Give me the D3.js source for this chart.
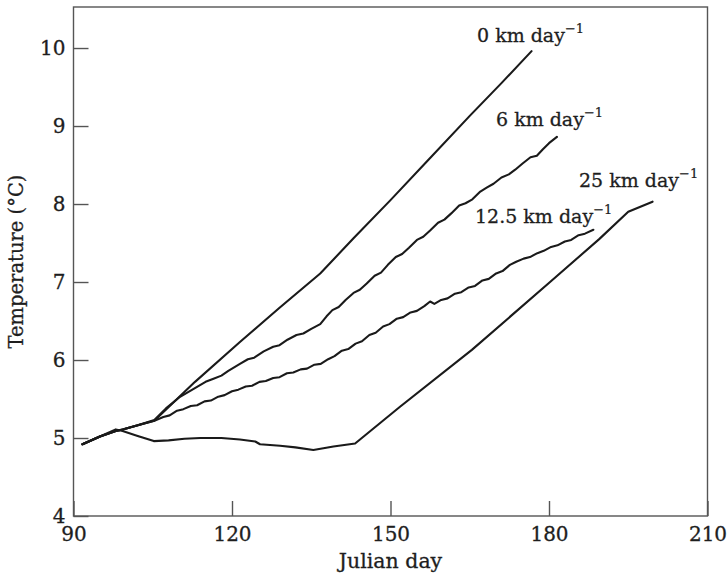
<!DOCTYPE html>
<html>
<head>
<meta charset="utf-8">
<script src="https://cdn.jsdelivr.net/npm/d3@7"></script>
<style>
  html, body { margin: 0; padding: 0; background: #fff; }
  svg { display: block; }
  text { font-family: "DejaVu Serif", "Liberation Serif", serif; fill: #1e1e1e; stroke: #1e1e1e; stroke-width: 0.3px; }
</style>
</head>
<body>
<svg id="chart" width="727" height="577"></svg>
<script>
// Temperature (°C) against Julian day for four drift speeds
const xTicks = [90, 120, 150, 180, 210];
const yTicks = [4, 5, 6, 7, 8, 9, 10];

const speed0 = [
  [91.7, 4.92], [95, 5.02], [98, 5.09], [99.3, 5.11], [102, 5.16], [105.3, 5.22],
  [113, 5.72], [121.5, 6.23], [129, 6.67], [136.7, 7.11], [143, 7.56],
  [150, 8.05], [157.5, 8.59], [165, 9.13], [171, 9.55], [176.7, 9.96]
];

const speed6 = [
  [91.7, 4.92], [95, 5.02], [98, 5.09], [99.3, 5.11], [102, 5.16], [105.3, 5.23],
  [107.5, 5.38], [110.0, 5.52], [112.5, 5.62], [115.0, 5.72], [116.5, 5.76],
  [118.0, 5.80], [119.3, 5.86], [121.5, 5.95], [123.0, 6.01], [124.2, 6.03],
  [126.0, 6.11], [127.8, 6.17], [129.0, 6.19], [130.5, 6.26], [132.2, 6.32],
  [133.5, 6.34], [135.0, 6.40], [136.7, 6.46], [137.9, 6.56], [139.0, 6.64],
  [140.2, 6.68], [141.5, 6.77], [143.0, 6.86], [144.2, 6.90], [145.5, 6.98],
  [147.0, 7.08], [148.2, 7.12], [149.5, 7.22], [151.0, 7.32], [152.2, 7.36],
  [153.5, 7.44], [155.0, 7.54], [156.2, 7.58], [157.5, 7.66], [159.0, 7.76],
  [160.2, 7.80], [161.5, 7.88], [163.0, 7.98], [164.2, 8.01], [165.5, 8.06],
  [167.0, 8.16], [168.2, 8.21], [169.5, 8.26], [171.0, 8.34], [172.4, 8.38],
  [173.6, 8.44], [175.0, 8.52], [176.5, 8.60], [177.7, 8.62], [178.8, 8.70],
  [180.0, 8.78], [181.5, 8.86]
];

const speed12_5 = [
  [91.7, 4.92], [95, 5.02], [98, 5.09], [99.3, 5.11], [102, 5.16], [105.3, 5.22],
  [107.0, 5.27], [108.2, 5.29], [109.6, 5.35], [110.8, 5.37], [112.2, 5.41],
  [113.4, 5.42], [114.8, 5.47], [116.0, 5.48], [117.4, 5.53], [118.6, 5.55],
  [120.0, 5.60], [121.2, 5.62], [122.6, 5.66], [123.8, 5.67], [125.2, 5.72],
  [126.4, 5.73], [127.8, 5.77], [129.0, 5.78], [130.4, 5.83], [131.6, 5.84],
  [133.0, 5.88], [134.2, 5.89], [135.6, 5.94], [136.8, 5.95], [138.2, 6.01],
  [139.4, 6.05], [140.8, 6.12], [142.0, 6.14], [143.4, 6.21], [144.6, 6.24],
  [146.0, 6.32], [147.2, 6.35], [148.6, 6.43], [149.8, 6.46], [151.2, 6.53],
  [152.4, 6.55], [153.8, 6.61], [155.0, 6.63], [156.4, 6.69], [157.5, 6.75],
  [158.3, 6.72], [159.6, 6.77], [160.8, 6.79], [162.2, 6.85], [163.4, 6.87],
  [164.8, 6.93], [166.0, 6.95], [167.4, 7.02], [168.6, 7.04], [170.0, 7.11],
  [171.2, 7.14], [172.6, 7.22], [173.8, 7.26], [175.2, 7.30], [176.4, 7.32],
  [177.8, 7.37], [179.0, 7.40], [180.4, 7.45], [181.6, 7.47], [183.0, 7.52],
  [184.2, 7.54], [185.6, 7.60], [186.8, 7.62], [188.4, 7.67]
];

const speed25 = [
  [91.7, 4.92], [95, 5.02], [98, 5.11], [99.3, 5.09], [102, 5.03], [105.2, 4.96],
  [108, 4.97], [111, 4.99], [114, 5.0], [118, 5.0], [121.5, 4.98], [124.4, 4.955],
  [125.3, 4.92], [129.1, 4.90], [132, 4.88], [135.4, 4.846], [139.2, 4.89],
  [143.3, 4.93], [151.8, 5.40], [165.4, 6.13], [180.2, 7.0], [189.5, 7.55],
  [195, 7.9], [199.6, 8.03]
];

const seriesLabels = ["0", "6", "12.5", "25"];
const seriesData = [speed0, speed6, speed12_5, speed25];

const svg = d3.select("#chart");
const plotLeft = 73.5, plotRight = 707.5, plotTop = 7, plotBottom = 516;

const x = d3.scaleLinear().domain([90, 210]).range([plotLeft, plotRight]);
const y = d3.scaleLinear().domain([4, 10.526]).range([plotBottom, plotTop]);

const axisColor = "#555";

// plot frame
svg.append("rect")
  .attr("x", plotLeft).attr("y", plotTop)
  .attr("width", plotRight - plotLeft).attr("height", plotBottom - plotTop)
  .attr("fill", "none").attr("stroke", axisColor).attr("stroke-width", 1.4);

// axes with inward ticks
const gx = svg.append("g")
  .attr("transform", `translate(0,${plotBottom})`)
  .call(d3.axisBottom(x).tickValues(xTicks).tickFormat(d3.format("d"))
    .tickSizeInner(-15).tickSizeOuter(0).tickPadding(11));
const gy = svg.append("g")
  .attr("transform", `translate(${plotLeft},0)`)
  .call(d3.axisLeft(y).tickValues(yTicks).tickFormat(d3.format("d"))
    .tickSizeInner(-15).tickSizeOuter(0).tickPadding(8));

[gx, gy].forEach(g => {
  g.select(".domain").remove();
  g.selectAll(".tick line").attr("stroke", axisColor).attr("stroke-width", 1.4);
  g.selectAll(".tick text")
    .style("font-family", '"DejaVu Serif", serif')
    .style("font-size", "20px")
    .attr("fill", "#1e1e1e");
});

// axis titles
svg.append("text")
  .attr("x", (plotLeft + plotRight) / 2).attr("y", 568)
  .attr("text-anchor", "middle")
  .style("font-size", "20.5px")
  .text("Julian day");

svg.append("text")
  .attr("transform", `translate(23,${(plotTop + plotBottom) / 2}) rotate(-90)`)
  .attr("text-anchor", "middle")
  .style("font-size", "19.5px")
  .text("Temperature (°C)");

// temperature curves
const line = d3.line().x(d => x(d[0])).y(d => y(d[1]));
svg.append("g")
  .selectAll("path")
  .data(seriesData)
  .join("path")
  .attr("d", line)
  .attr("fill", "none")
  .attr("stroke", "#1a1a1a")
  .attr("stroke-width", 2.1)
  .attr("stroke-linejoin", "round")
  .attr("stroke-linecap", "round");

// curve labels
const labelPos = [[477, 42], [496, 126], [475, 223], [579, 187]];
seriesLabels.forEach((s, i) => {
  const t = svg.append("text")
    .attr("x", labelPos[i][0]).attr("y", labelPos[i][1])
    .style("font-size", "19px");
  t.append("tspan").text(`${s} km day`);
  t.append("tspan")
    .attr("dy", -9)
    .style("font-size", "13px")
    .style("stroke-width", "0.2px")
    .text("\u22121");
});
</script>
</body>
</html>
